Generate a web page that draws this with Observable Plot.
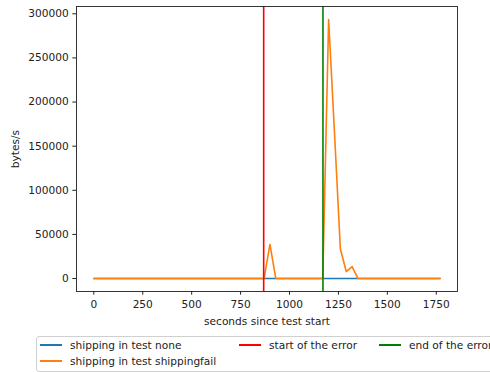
<!DOCTYPE html>
<html>
<head>
<meta charset="utf-8">
<script src="https://cdn.jsdelivr.net/npm/d3@7"></script>
<script src="https://cdn.jsdelivr.net/npm/@observablehq/plot@0.6"></script>
<style>
  html, body { margin: 0; padding: 0; background: #fff; overflow: hidden; width: 490px; height: 372px; }
  #wrap { position: relative; width: 490px; height: 372px; font-family: "DejaVu Sans", sans-serif; }
  #legend { position: absolute; left: 36px; top: 336px; width: 480px; height: 34px; border: 1px solid #d0d0d0; border-radius: 3px; background: #fff; font-size: 10.6px; color: #222; }
  .item { position: absolute; white-space: nowrap; line-height: 12px; }
  .sw { position: absolute; height: 2px; }
</style>
</head>
<body>
<div id="wrap"></div>
<script>
const seconds = [0,30,60,90,120,150,180,210,240,270,300,330,360,390,420,450,480,510,540,570,600,630,660,690,720,750,780,810,840,870,900,930,960,990,1020,1050,1080,1110,1140,1170,1200,1230,1260,1290,1320,1350,1380,1410,1440,1470,1500,1530,1560,1590,1620,1650,1680,1710,1740,1770];
const noneBytes = [0,0,0,0,0,0,0,0,0,0,0,0,0,0,0,0,0,0,0,0,0,0,0,0,0,0,0,0,0,0,0,0,0,0,0,0,0,0,0,0,0,0,0,0,0,0,0,0,0,0,0,0,0,0,0,0,0,0,0,0];
const failBytes = [0,0,0,0,0,0,0,0,0,0,0,0,0,0,0,0,0,0,0,0,0,0,0,0,0,0,0,0,0,0,38600,0,0,0,0,0,0,0,0,0,293600,165000,33500,7900,13600,0,0,0,0,0,0,0,0,0,0,0,0,0,0,0];
const errorStart = [868];
const errorEnd = [1171];
const xTicks = [0,250,500,750,1000,1250,1500,1750];
const yTicks = [0,50000,100000,150000,200000,250000,300000];
const seriesNames = ["shipping in test none", "shipping in test shippingfail"];
const legendLabels = ["shipping in test none", "start of the error", "end of the error", "shipping in test shippingfail"];

const rows = [];
seconds.forEach((s, i) => rows.push({s, v: noneBytes[i], series: seriesNames[0]}));
seconds.forEach((s, i) => rows.push({s, v: failBytes[i], series: seriesNames[1]}));

const chart = Plot.plot({
  width: 490,
  height: 330,
  marginLeft: 76,
  marginRight: 33,
  marginTop: 6,
  marginBottom: 39,
  style: {fontFamily: "DejaVu Sans, sans-serif", fontSize: "10.6px", color: "#222", background: "#fff"},
  x: {domain: [-88.5, 1858.5]},
  y: {domain: [-14680, 308280]},
  marks: [
    Plot.line(rows.filter(d => d.series === seriesNames[0]), {x: "s", y: "v", stroke: "#1f77b4", strokeWidth: 1.6}),
    Plot.line(rows.filter(d => d.series === seriesNames[1]), {x: "s", y: "v", stroke: "#ff7f0e", strokeWidth: 1.6}),
    Plot.ruleX(errorStart, {stroke: "#ff0000", strokeWidth: 1.6}),
    Plot.ruleX(errorEnd, {stroke: "#008000", strokeWidth: 1.6}),
    Plot.frame({stroke: "#222", strokeWidth: 0.9}),
    Plot.axisX({ticks: xTicks, tickFormat: d => String(d), tickSize: 3.7, tickPadding: 5, label: "seconds since test start", labelAnchor: "center", labelArrow: "none", labelOffset: 33, stroke: "#222"}),
    Plot.axisY({ticks: yTicks, tickFormat: d => String(d), tickSize: 3.7, tickPadding: 4, label: "bytes/s", labelAnchor: "center", labelArrow: "none", labelOffset: 65, stroke: "#222"})
  ]
});
chart.style.position = "absolute";
chart.style.left = "0px";
chart.style.top = "0px";
const wrap = document.getElementById("wrap");
wrap.appendChild(chart);

const legend = document.createElement("div");
legend.id = "legend";
const items = [
  {label: legendLabels[0], color: "#1f77b4", sx: 3, tx: 33, y: 2},
  {label: legendLabels[1], color: "#ff0000", sx: 202, tx: 232, y: 2},
  {label: legendLabels[2], color: "#008000", sx: 342, tx: 372, y: 2},
  {label: legendLabels[3], color: "#ff7f0e", sx: 3, tx: 33, y: 18}
];
for (const it of items) {
  const sw = document.createElement("div");
  sw.className = "sw";
  sw.style.left = it.sx + "px";
  sw.style.width = "22px";
  sw.style.top = (it.y + 5) + "px";
  sw.style.background = it.color;
  legend.appendChild(sw);
  const t = document.createElement("div");
  t.className = "item";
  t.style.left = it.tx + "px";
  t.style.top = it.y + "px";
  t.textContent = it.label;
  legend.appendChild(t);
}
wrap.appendChild(legend);
</script>
</body>
</html>
